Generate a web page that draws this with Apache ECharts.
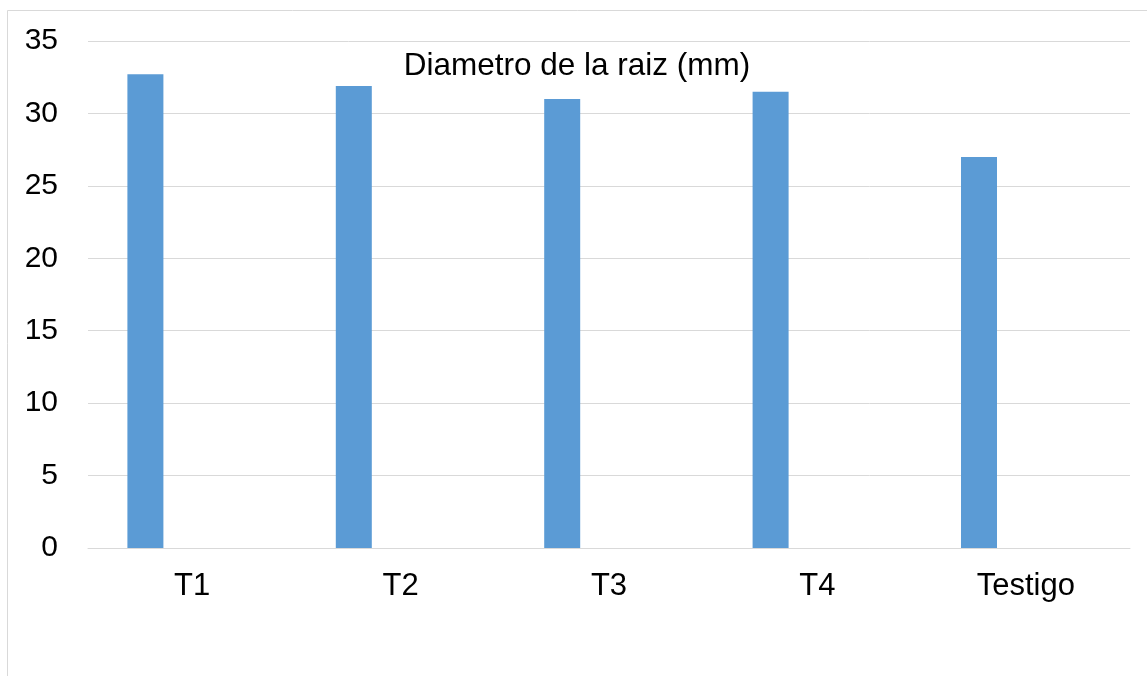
<!DOCTYPE html>
<html>
<head>
<meta charset="utf-8">
<script src="https://cdn.jsdelivr.net/npm/echarts@6/dist/echarts.min.js"></script>
<style>
  html, body { margin: 0; padding: 0; background: #ffffff; }
  #chart { width: 1147px; height: 676px; }
</style>
</head>
<body>
<div id="chart"></div>
<script>
// Root diameter per treatment
const categories = ['T1', 'T2', 'T3', 'T4', 'Testigo'];
const diametro = [32.7, 31.9, 31.0, 31.5, 27.0];
const vacio = [null, null, null, null, null];
const yMin = 0, yMax = 35, yStep = 5;

const FONT = '"Liberation Sans", Arial, sans-serif';
const chart = echarts.init(document.getElementById('chart'), null, { renderer: 'canvas' });

chart.setOption({
  animation: false,
  backgroundColor: '#ffffff',
  title: {
    text: 'Diametro de la raiz (mm)',
    left: 572,
    top: 45,
    textAlign: 'center',
    textStyle: { fontFamily: FONT, fontSize: 31.5, fontWeight: 'normal', color: '#000000', lineHeight: 32 }
  },
  graphic: [{
    type: 'rect',
    shape: { x: 7.5, y: 10.5, width: 1200, height: 900 },
    style: { fill: 'none', stroke: '#d9d9d9', lineWidth: 1 },
    silent: true,
    z: -10
  }],
  grid: { left: 88, right: 17, top: 41, bottom: 128, containLabel: false },
  xAxis: {
    type: 'category',
    data: categories,
    axisLine: { show: true, lineStyle: { color: '#d9d9d9', width: 1 } },
    axisTick: { show: false },
    axisLabel: { fontFamily: FONT, fontSize: 31, color: '#000000', margin: 23, lineHeight: 31 },
    splitLine: { show: false }
  },
  yAxis: {
    type: 'value',
    min: yMin, max: yMax, interval: yStep,
    axisLine: { show: false },
    axisTick: { show: false },
    axisLabel: { fontFamily: FONT, fontSize: 30, color: '#000000', margin: 30 },
    splitLine: { show: true, lineStyle: { color: '#d9d9d9', width: 1 } }
  },
  series: [
    {
      name: 'Diametro',
      type: 'bar',
      data: diametro,
      barWidth: 36,
      barGap: '160%',
      itemStyle: { color: '#5b9bd5' }
    },
    {
      name: 'Serie 2',
      type: 'bar',
      data: vacio,
      barWidth: 36,
      itemStyle: { color: '#ed7d31' }
    }
  ]
});
</script>
</body>
</html>
